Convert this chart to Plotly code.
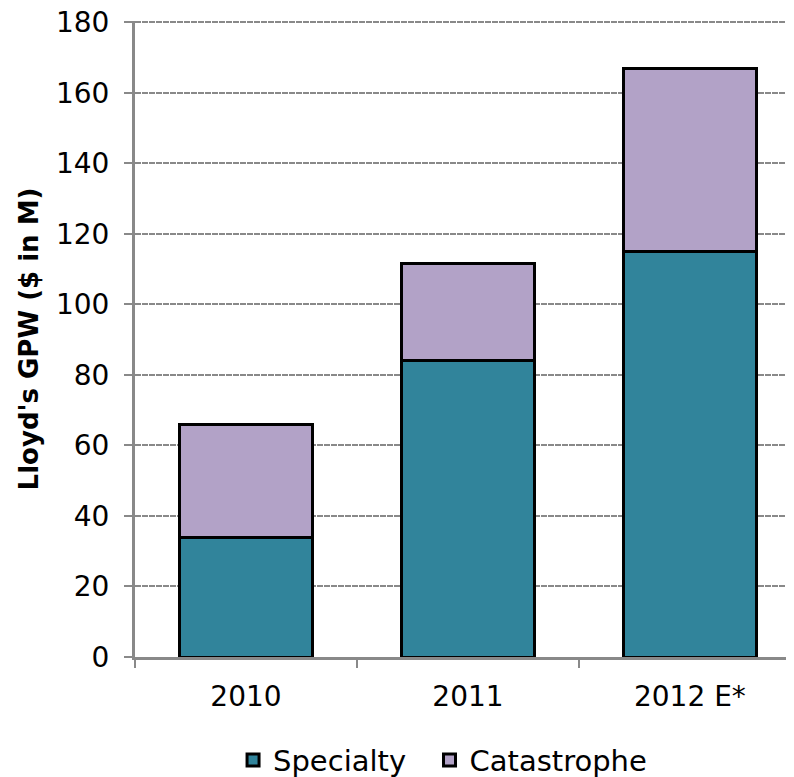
import plotly.graph_objects as go

years = ["2010", "2011", "2012 E*"]
specialty = [34, 84, 115]
catastrophe = [32, 27.5, 52]

FONT = "DejaVu Sans, Liberation Sans, Arial, sans-serif"

fig = go.Figure()
fig.add_trace(go.Bar(x=years, y=specialty, name="Specialty\u00a0\u00a0",
                     marker=dict(color="#31849b", line=dict(color="black", width=3)),
                     width=0.6))
fig.add_trace(go.Bar(x=years, y=catastrophe, name="Catastrophe",
                     marker=dict(color="#b2a2c7", line=dict(color="black", width=3)),
                     width=0.6))

fig.update_layout(
    barmode="stack",
    width=794, height=777,
    margin=dict(l=127, r=0, t=13, b=128, autoexpand=False),
    plot_bgcolor="white", paper_bgcolor="white",
    font=dict(family=FONT, color="black"),
    showlegend=True,
    legend=dict(orientation="h", x=0.147, xanchor="left", y=-0.162, yanchor="middle",
                font=dict(size=29, family=FONT), itemwidth=30,
                traceorder="normal"),
    xaxis=dict(type="category", range=[-0.5, 2.505], showline=True, linecolor="#898989",
               linewidth=3, ticks="outside", tickson="boundaries", ticklen=8,
               tickwidth=2, tickcolor="#898989", tickfont=dict(size=28, family=FONT),
               showgrid=False, automargin=False, ticklabelstandoff=12),
    yaxis=dict(range=[0, 180.4], tickvals=list(range(0, 181, 20)), showline=True,
               linecolor="#898989", linewidth=3,
               ticks="outside", ticklen=8, tickwidth=2, tickcolor="#898989",
               tickfont=dict(size=28, family=FONT), showgrid=True, gridcolor="#898989",
               gridwidth=2, griddash="6px,1px", zeroline=False, automargin=False,
               ticklabelstandoff=9, ticklabeloverflow="allow",
               title=dict(text="<b>Lloyd's GPW ($ in M)</b>", font=dict(size=26, family=FONT),
                          standoff=10)),
)

fig.write_html("out.html")
